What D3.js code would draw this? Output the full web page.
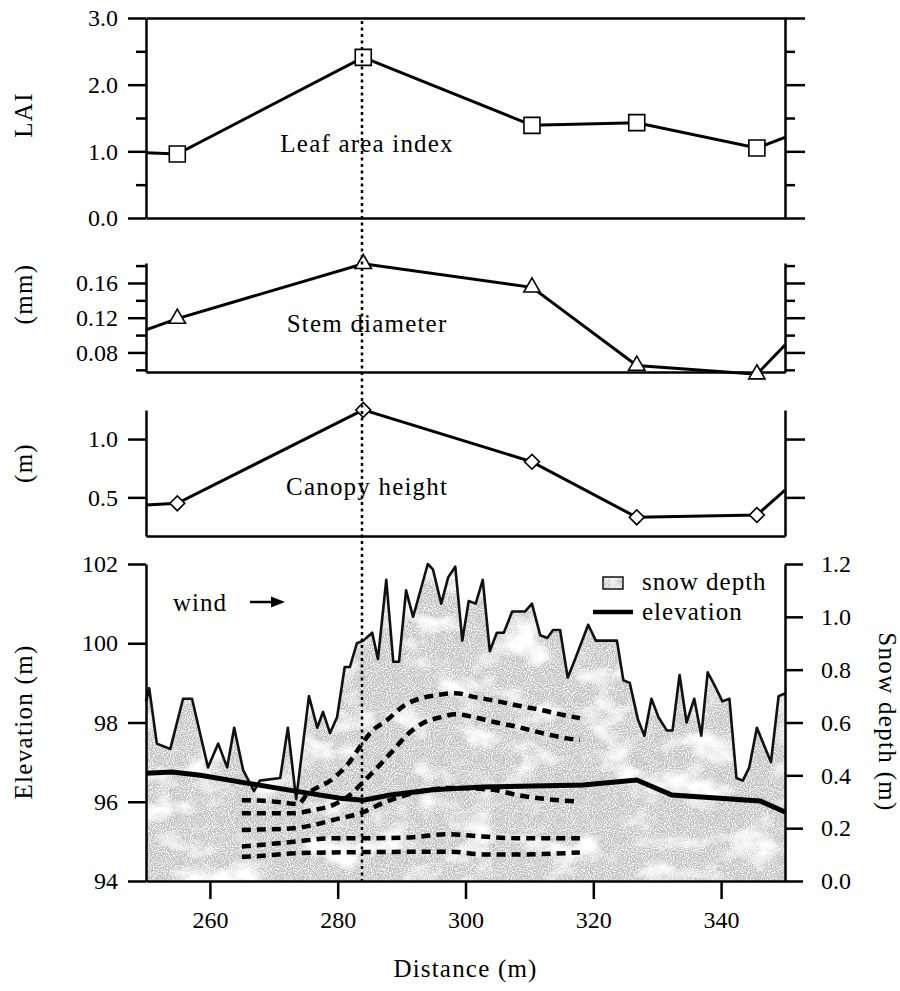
<!DOCTYPE html>
<html><head><meta charset="utf-8">
<script src="https://cdn.jsdelivr.net/npm/d3@7"></script>
<style>
body{margin:0;background:#fff}
svg text{font-family:"Liberation Serif","DejaVu Serif",serif;fill:#000}
</style>
</head><body>
<svg id="chart" width="900" height="991"></svg>
<script>
// ---------- data ----------
const xTicks = [260, 280, 300, 320, 340];
const sampleDist = [254.9, 284.0, 310.4, 326.8, 345.6];
const edgeDist = [250, 350];
const laiValues = [0.96, 2.41, 1.39, 1.43, 1.05];
const laiEdges = [0.98, 1.21];
const stemValues = [0.119, 0.182, 0.155, 0.065, 0.055];
const stemEdges = [0.106, 0.0885];
const canopyValues = [0.449, 1.25, 0.805, 0.329, 0.349];
const canopyEdges = [0.434, 0.563];
const transectMark = 283.8;

const laiMajor = [0, 1, 2, 3], laiMinor = [0.5, 1.5, 2.5];
const stemMajor = [0.08, 0.12, 0.16], stemMinor = [0.06, 0.10, 0.14, 0.18];
const canopyMajor = [0.5, 1.0];
const elevTicks = [94, 96, 98, 100, 102];
const snowTicks = [0, 0.2, 0.4, 0.6, 0.8, 1.0, 1.2];

const snowDist = [250.0, 250.5, 251.7, 253.8, 255.8, 257.2, 259.7, 261.3, 262.7, 263.8, 265.2, 266.9, 267.8, 271.0, 272.2, 273.5, 275.5, 276.8, 277.7, 278.8, 279.9, 281.1, 281.9, 283.0, 284.0, 285.4, 286.3, 287.6, 288.7, 289.6, 290.7, 291.8, 294.1, 294.9, 296.2, 297.3, 298.4, 299.5, 300.5, 301.6, 302.7, 303.8, 304.9, 306.0, 307.3, 309.3, 310.4, 311.7, 312.8, 313.7, 314.8, 316.0, 317.0, 319.2, 320.4, 323.7, 324.7, 325.7, 327.0, 328.0, 329.1, 330.2, 331.5, 332.4, 333.5, 334.6, 335.8, 336.9, 337.9, 339.0, 340.2, 341.3, 342.4, 343.4, 344.4, 345.6, 347.8, 349.0, 350.0];
const snowDepth = [0.68, 0.73, 0.52, 0.50, 0.69, 0.69, 0.43, 0.52, 0.43, 0.58, 0.42, 0.34, 0.38, 0.39, 0.58, 0.31, 0.70, 0.58, 0.64, 0.56, 0.62, 0.81, 0.81, 0.90, 0.91, 0.94, 0.84, 1.14, 0.83, 0.83, 1.10, 1.00, 1.20, 1.18, 1.05, 1.15, 1.19, 0.91, 1.06, 1.05, 1.14, 0.87, 0.94, 0.94, 1.02, 1.02, 1.05, 0.93, 0.92, 0.95, 0.95, 0.77, 0.83, 0.97, 0.91, 0.91, 0.76, 0.75, 0.61, 0.55, 0.69, 0.62, 0.57, 0.57, 0.78, 0.60, 0.69, 0.55, 0.79, 0.74, 0.68, 0.69, 0.39, 0.38, 0.43, 0.58, 0.45, 0.70, 0.71];

const elevDist = [250, 254.1, 258.5, 265.8, 274.1, 280.4, 284.0, 288.2, 294.9, 302.7, 318.4, 326.8, 332.3, 346.1, 350];
const elevValues = [96.72, 96.75, 96.67, 96.47, 96.25, 96.09, 96.04, 96.17, 96.30, 96.37, 96.42, 96.55, 96.17, 96.02, 95.74];

const layer1Dist = [265.0, 267.8, 271.0, 273.8, 275.1, 279.3, 281.7, 283.5, 285.3, 287.7, 290.5, 293.2, 295.5, 298.4, 301.5, 304.3, 308.1, 312.0, 315.3, 317.9];
const layer1Elev = [96.04, 96.03, 95.99, 95.94, 96.17, 96.59, 96.97, 97.39, 97.77, 98.06, 98.44, 98.62, 98.69, 98.74, 98.64, 98.56, 98.43, 98.31, 98.19, 98.11];
const layer2Dist = [265.0, 267.8, 273.1, 276.1, 279.3, 281.9, 284.0, 286.6, 288.7, 290.8, 293.3, 296.3, 298.4, 301.2, 304.3, 308.1, 312.1, 315.9, 317.9];
const layer2Elev = [95.71, 95.71, 95.71, 95.79, 95.92, 96.17, 96.50, 96.93, 97.30, 97.68, 97.98, 98.14, 98.21, 98.14, 98.02, 97.89, 97.73, 97.60, 97.56];
const layer3Dist = [265.0, 267.8, 273.1, 276.1, 279.3, 284.0, 287.1, 292.4, 297.6, 304.3, 308.1, 317.9];
const layer3Elev = [95.29, 95.30, 95.33, 95.41, 95.54, 95.74, 95.97, 96.24, 96.35, 96.30, 96.17, 96.00];
const layer4Dist = [265.0, 267.8, 273.1, 279.3, 284.0, 291.3, 297.1, 302.7, 308.1, 317.9];
const layer4Elev = [94.87, 94.91, 94.99, 95.08, 95.08, 95.10, 95.18, 95.12, 95.08, 95.08];
const layer5Dist = [265.0, 267.8, 273.1, 279.3, 297.6, 302.7, 308.1, 317.9];
const layer5Elev = [94.61, 94.63, 94.70, 94.72, 94.74, 94.67, 94.67, 94.72];

// ---------- layout ----------
const svg = d3.select("#chart");
const FONT = '"Liberation Serif","DejaVu Serif",serif';
const X0 = 146, X1 = 785;
const x = d3.scaleLinear().domain([250, 350]).range([X0, X1]);
const yLai = d3.scaleLinear().domain([0, 3]).range([218, 18]);
const yStem = d3.scaleLinear().domain([0.0575, 0.183]).range([372, 263]);
const yCan = d3.scaleLinear().domain([0.169, 1.249]).range([536, 410]);
const yElev = d3.scaleLinear().domain([94, 102]).range([881, 564]);
const ySnow = d3.scaleLinear().domain([0, 1.2]).range([881, 564]);

// texture filter for snow
const defs = svg.append("defs");
const f = defs.append("filter").attr("id", "snowTex").attr("x", 0).attr("y", 0).attr("width", 1).attr("height", 1);
f.append("feTurbulence").attr("type", "fractalNoise").attr("baseFrequency", "0.022 0.03").attr("numOctaves", 4).attr("seed", 11).attr("result", "blot");
f.append("feColorMatrix").attr("in", "blot").attr("type", "matrix")
  .attr("values", "0 0 0 0 1  0 0 0 0 1  0 0 0 0 1  4 0 0 0 -2.05").attr("result", "blotW");
f.append("feTurbulence").attr("type", "fractalNoise").attr("baseFrequency", "0.95").attr("numOctaves", 1).attr("seed", 3).attr("result", "grain");
f.append("feColorMatrix").attr("in", "grain").attr("type", "matrix")
  .attr("values", "0 0 0 0 1  0 0 0 0 1  0 0 0 0 1  4 0 0 0 -1.8").attr("result", "grainW");
const fm = f.append("feMerge").attr("result", "merged");
fm.append("feMergeNode").attr("in", "SourceGraphic");
fm.append("feMergeNode").attr("in", "grainW");
fm.append("feMergeNode").attr("in", "blotW");
f.append("feComposite").attr("in", "merged").attr("in2", "SourceGraphic").attr("operator", "in");

function styleAxis(g) {
  g.attr("font-family", FONT);
  g.selectAll(".domain").attr("stroke", "#000").attr("stroke-width", 2.5);
  g.selectAll(".tick line").attr("stroke", "#000").attr("stroke-width", 2.5);
  g.selectAll(".tick text").attr("font-size", 24).attr("fill", "#000").attr("font-family", FONT);
}
function yAxes(scale, major, minor, fmt) {
  const gl = svg.append("g").attr("transform", `translate(${X0},0)`)
    .call(d3.axisLeft(scale).tickValues(major).tickSize(18).tickSizeOuter(0).tickPadding(10).tickFormat(fmt));
  styleAxis(gl);
  const gr = svg.append("g").attr("transform", `translate(${X1},0)`)
    .call(d3.axisRight(scale).tickValues(major).tickSize(20).tickSizeOuter(0).tickFormat(() => ""));
  styleAxis(gr);
  if (minor) {
    const ml = svg.append("g").attr("transform", `translate(${X0},0)`)
      .call(d3.axisLeft(scale).tickValues(minor).tickSize(10).tickFormat(() => ""));
    ml.select(".domain").remove(); styleAxis(ml);
    const mr = svg.append("g").attr("transform", `translate(${X1},0)`)
      .call(d3.axisRight(scale).tickValues(minor).tickSize(10).tickFormat(() => ""));
    mr.select(".domain").remove(); styleAxis(mr);
  }
}
function hLine(yPix) {
  const g = svg.append("g").attr("transform", `translate(0,${yPix})`)
    .call(d3.axisBottom(x).tickValues([]).tickSizeOuter(0));
  styleAxis(g);
}

// ---------- upper panels ----------
function profilePanel(yScale, values, edges, sym) {
  const dists = [edgeDist[0], ...sampleDist, edgeDist[1]];
  const vals = [edges[0], ...values, edges[1]];
  svg.append("path")
    .attr("d", d3.line().x((d, i) => x(dists[i])).y(d => yScale(d))(vals))
    .attr("fill", "none").attr("stroke", "#000").attr("stroke-width", 3);
  svg.append("g").selectAll("path").data(values).join("path")
    .attr("transform", (d, i) => `translate(${x(sampleDist[i])},${yScale(d)})` + sym.rot)
    .attr("d", d3.symbol().type(sym.type).size(sym.size)())
    .attr("fill", "#fff").attr("stroke", "#000").attr("stroke-width", 1.6);
}

hLine(yLai.range()[1]);
hLine(yLai.range()[0]);
yAxes(yLai, laiMajor, laiMinor, d3.format(".1f"));
profilePanel(yLai, laiValues, laiEdges, {type: d3.symbolSquare, size: 256, rot: ""});
hLine(yStem.range()[0]);
yAxes(yStem, stemMajor, stemMinor, d3.format(".2f"));
profilePanel(yStem, stemValues, stemEdges, {type: d3.symbolTriangle, size: 115, rot: ""});
hLine(yCan.range()[0]);
yAxes(yCan, canopyMajor, null, d3.format(".1f"));
profilePanel(yCan, canopyValues, canopyEdges, {type: d3.symbolSquare, size: 110, rot: " rotate(45)"});

const labelX = x(284.6);
[["Leaf area index", 152], ["Stem diameter", 332], ["Canopy height", 495]].forEach(([t, yy]) => {
  svg.append("text").attr("x", labelX).attr("y", yy).attr("text-anchor", "middle")
    .attr("font-size", 25).attr("letter-spacing", 1.2).text(t);
});

// ---------- bottom panel ----------
const area = d3.area().x((d, i) => x(snowDist[i])).y0(ySnow(0)).y1(d => ySnow(d));
svg.append("path").attr("d", area(snowDepth)).attr("fill", "#c2c2c2").attr("filter", "url(#snowTex)");
svg.append("path").attr("d", d3.line().x((d, i) => x(snowDist[i])).y(d => ySnow(d))(snowDepth))
  .attr("fill", "none").attr("stroke", "#111").attr("stroke-width", 2.6).attr("stroke-linejoin", "round");

svg.append("path").attr("d", d3.line().x((d, i) => x(elevDist[i])).y(d => yElev(d))(elevValues))
  .attr("fill", "none").attr("stroke", "#000").attr("stroke-width", 5);

const layers = [[layer1Dist, layer1Elev], [layer2Dist, layer2Elev], [layer3Dist, layer3Elev], [layer4Dist, layer4Elev], [layer5Dist, layer5Elev]];
layers.forEach(([ds, es]) => {
  svg.append("path").attr("d", d3.line().curve(d3.curveMonotoneX).x((d, i) => x(ds[i])).y(d => yElev(d))(es))
    .attr("fill", "none").attr("stroke", "#000").attr("stroke-width", 4.5).attr("stroke-dasharray", "9,6");
});

const gxb = svg.append("g").attr("transform", `translate(0,${yElev.range()[0]})`)
  .call(d3.axisBottom(x).tickValues(xTicks).tickSize(18).tickSizeOuter(0).tickPadding(12).tickFormat(d3.format("d")));
styleAxis(gxb);
const gel = svg.append("g").attr("transform", `translate(${X0},0)`)
  .call(d3.axisLeft(yElev).tickValues(elevTicks).tickSize(18).tickSizeOuter(0).tickPadding(10).tickFormat(d3.format("d")));
styleAxis(gel);
const gsr = svg.append("g").attr("transform", `translate(${X1},0)`)
  .call(d3.axisRight(ySnow).tickValues(snowTicks).tickSize(18).tickSizeOuter(0).tickPadding(18).tickFormat(d3.format(".1f")));
styleAxis(gsr);

svg.append("line").attr("x1", x(transectMark)).attr("x2", x(transectMark))
  .attr("y1", yLai.range()[1] + 3).attr("y2", yElev.range()[0])
  .attr("stroke", "#000").attr("stroke-width", 2.5).attr("stroke-dasharray", "3,3.5");

// wind annotation
svg.append("text").attr("x", 173).attr("y", 611).attr("font-size", 25).attr("letter-spacing", 1).text("wind");
svg.append("line").attr("x1", 250).attr("x2", 274).attr("y1", 602).attr("y2", 602).attr("stroke", "#000").attr("stroke-width", 2.5);
svg.append("path").attr("d", "M285,602 L271,596.5 L271,607.5 Z").attr("fill", "#000");

// legend
svg.append("rect").attr("x", 603).attr("y", 577).attr("width", 20).attr("height", 12).attr("fill", "#c2c2c2").attr("filter", "url(#snowTex)");
svg.append("rect").attr("x", 603).attr("y", 577).attr("width", 20).attr("height", 12).attr("fill", "none").attr("stroke", "#111").attr("stroke-width", 1.5);
svg.append("text").attr("x", 642).attr("y", 590).attr("font-size", 25).attr("letter-spacing", 1).text("snow depth");
svg.append("line").attr("x1", 593).attr("x2", 633).attr("y1", 612).attr("y2", 612).attr("stroke", "#000").attr("stroke-width", 4.5);
svg.append("text").attr("x", 642).attr("y", 620).attr("font-size", 25).attr("letter-spacing", 1).text("elevation");

function vTitle(xp, yp, txt, rot) {
  svg.append("text").attr("transform", `translate(${xp},${yp}) rotate(${rot})`)
    .attr("text-anchor", "middle").attr("font-size", 25).attr("letter-spacing", 1.3).text(txt);
}
vTitle(32, 115, "LAI", -90);
vTitle(32, 294, "(mm)", -90);
vTitle(32, 463, "(m)", -90);
vTitle(32, 722, "Elevation (m)", -90);
vTitle(879, 722, "Snow depth (m)", 90);
svg.append("text").attr("x", x(300)).attr("y", 977).attr("text-anchor", "middle")
  .attr("font-size", 25).attr("letter-spacing", 1.2).text("Distance (m)");
</script>
</body></html>
